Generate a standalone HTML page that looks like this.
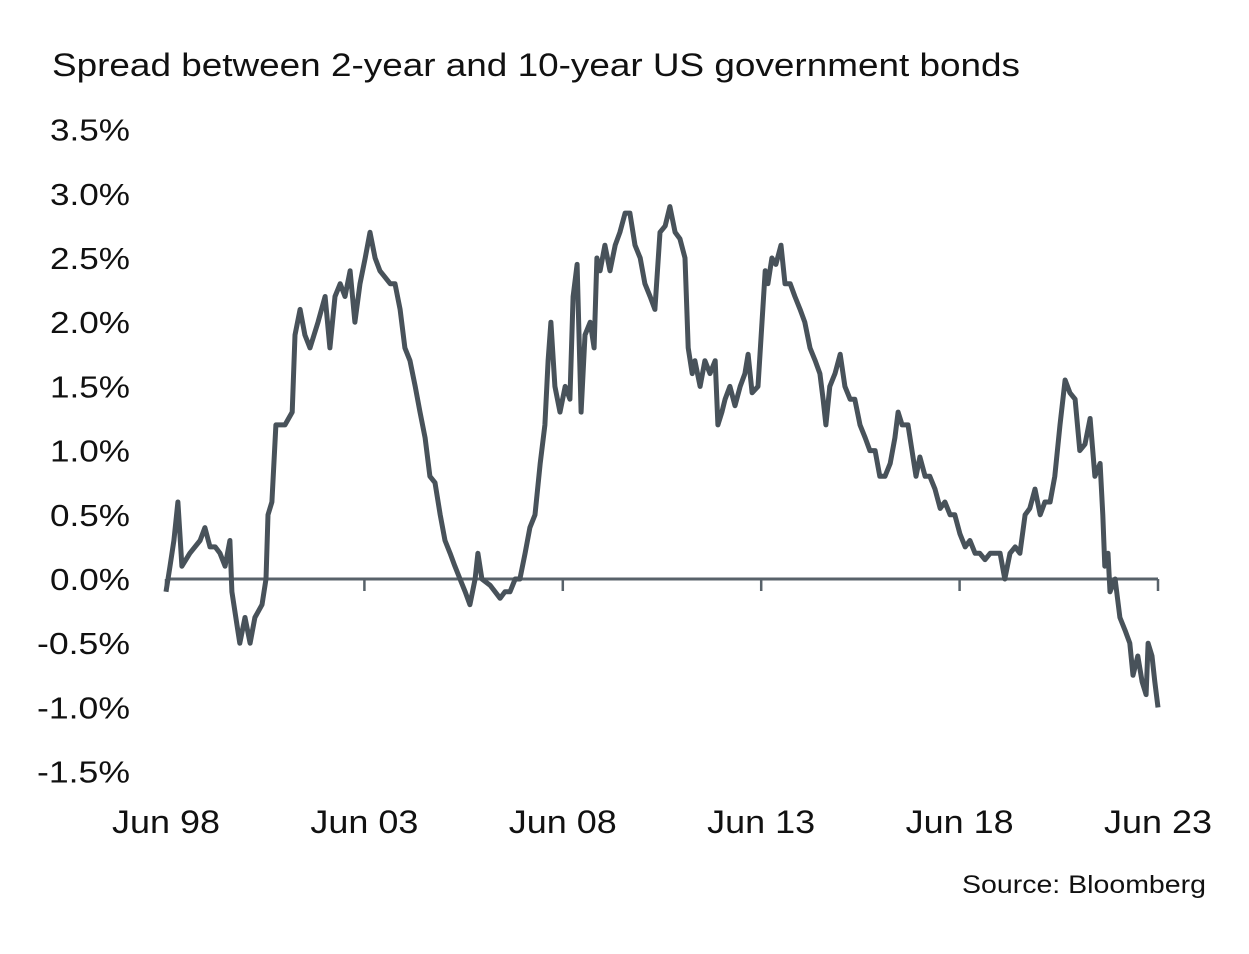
<!DOCTYPE html>
<html><head><meta charset="utf-8"><style>
html,body{margin:0;padding:0;background:#fff;}
svg text{font-family:"Liberation Sans",Arial,sans-serif;fill:#111;}
</style></head><body>
<svg id="chart" width="1249" height="949" viewBox="0 0 1249 949" xmlns="http://www.w3.org/2000/svg">
<text x="52" y="76" font-size="32" textLength="968" lengthAdjust="spacingAndGlyphs">Spread between 2-year and 10-year US government bonds</text>
<g id="yaxis"></g>
<g id="xaxis"></g>
<path id="series" fill="none" stroke="#48525a" stroke-width="5" stroke-linejoin="round"></path>
<text x="962" y="893" font-size="25" textLength="244" lengthAdjust="spacingAndGlyphs">Source: Bloomberg</text>
</svg>
<script>
const yTicks=[3.5,3.0,2.5,2.0,1.5,1.0,0.5,0.0,-0.5,-1.0,-1.5];
const yTickLabels=["3.5%","3.0%","2.5%","2.0%","1.5%","1.0%","0.5%","0.0%","-0.5%","-1.0%","-1.5%"];
const xTicks=[1998.5,2003.5,2008.5,2013.5,2018.5,2023.5];
const xTickLabels=["Jun 98","Jun 03","Jun 08","Jun 13","Jun 18","Jun 23"];
const dates=[1998.50,1998.60,1998.70,1998.80,1998.90,1999.10,1999.36,1999.48,1999.61,1999.74,1999.86,1999.99,2000.11,2000.16,2000.31,2000.36,2000.49,2000.62,2000.74,2000.92,2001.02,2001.07,2001.17,2001.27,2001.50,2001.68,2001.75,2001.88,2002.00,2002.13,2002.33,2002.51,2002.63,2002.76,2002.89,2003.01,2003.14,2003.26,2003.39,2003.52,2003.64,2003.77,2003.89,2004.15,2004.27,2004.40,2004.52,2004.65,2004.78,2004.90,2005.03,2005.15,2005.28,2005.41,2005.53,2005.66,2005.78,2005.91,2006.04,2006.16,2006.29,2006.36,2006.46,2006.67,2006.92,2007.04,2007.17,2007.30,2007.42,2007.55,2007.67,2007.80,2007.93,2008.05,2008.13,2008.20,2008.30,2008.43,2008.56,2008.68,2008.76,2008.86,2008.96,2009.06,2009.19,2009.29,2009.36,2009.44,2009.56,2009.69,2009.82,2009.94,2010.07,2010.19,2010.32,2010.45,2010.57,2010.70,2010.82,2010.95,2011.08,2011.20,2011.33,2011.45,2011.58,2011.66,2011.76,2011.83,2011.96,2012.08,2012.21,2012.34,2012.41,2012.51,2012.59,2012.71,2012.84,2012.97,2013.09,2013.17,2013.27,2013.42,2013.60,2013.67,2013.77,2013.87,2014.00,2014.10,2014.23,2014.35,2014.48,2014.60,2014.73,2014.86,2014.98,2015.06,2015.13,2015.23,2015.36,2015.49,2015.61,2015.74,2015.86,2015.99,2016.12,2016.24,2016.37,2016.49,2016.62,2016.75,2016.87,2016.95,2017.05,2017.20,2017.30,2017.40,2017.50,2017.63,2017.75,2017.88,2018.01,2018.13,2018.26,2018.38,2018.51,2018.64,2018.76,2018.89,2019.01,2019.14,2019.27,2019.39,2019.52,2019.64,2019.77,2019.90,2020.02,2020.15,2020.27,2020.40,2020.53,2020.65,2020.78,2020.90,2021.03,2021.16,2021.28,2021.41,2021.53,2021.66,2021.79,2021.91,2022.04,2022.11,2022.16,2022.24,2022.29,2022.42,2022.54,2022.67,2022.79,2022.87,2022.99,2023.10,2023.20,2023.25,2023.35,2023.42,2023.50];
const spreads=[-0.1,0.1,0.3,0.6,0.1,0.2,0.3,0.4,0.25,0.25,0.2,0.1,0.3,-0.1,-0.4,-0.5,-0.3,-0.5,-0.3,-0.2,0.0,0.5,0.6,1.2,1.2,1.3,1.9,2.1,1.9,1.8,2.0,2.2,1.8,2.2,2.3,2.2,2.4,2.0,2.3,2.5,2.7,2.5,2.4,2.3,2.3,2.1,1.8,1.7,1.5,1.3,1.1,0.8,0.75,0.5,0.3,0.2,0.1,0.0,-0.1,-0.2,0.0,0.2,0.0,-0.05,-0.15,-0.1,-0.1,0.0,0.0,0.2,0.4,0.5,0.9,1.2,1.7,2.0,1.5,1.3,1.5,1.4,2.2,2.45,1.3,1.9,2.0,1.8,2.5,2.4,2.6,2.4,2.6,2.7,2.85,2.85,2.6,2.5,2.3,2.2,2.1,2.7,2.75,2.9,2.7,2.65,2.5,1.8,1.6,1.7,1.5,1.7,1.6,1.7,1.2,1.3,1.4,1.5,1.35,1.5,1.6,1.75,1.45,1.5,2.4,2.3,2.5,2.45,2.6,2.3,2.3,2.2,2.1,2.0,1.8,1.7,1.6,1.4,1.2,1.5,1.6,1.75,1.5,1.4,1.4,1.2,1.1,1.0,1.0,0.8,0.8,0.9,1.1,1.3,1.2,1.2,1.0,0.8,0.95,0.8,0.8,0.7,0.55,0.6,0.5,0.5,0.35,0.25,0.3,0.2,0.2,0.15,0.2,0.2,0.2,0.0,0.2,0.25,0.2,0.5,0.55,0.7,0.5,0.6,0.6,0.8,1.2,1.55,1.45,1.4,1.0,1.05,1.25,0.8,0.9,0.5,0.1,0.2,-0.1,0.0,-0.3,-0.4,-0.5,-0.75,-0.6,-0.8,-0.9,-0.5,-0.6,-0.8,-1.0];
const NS='http://www.w3.org/2000/svg';
function xScale(t){return 166+(t-1998.5)*(1158-166)/25;}
function yScale(v){return 579-v*128.4;}
const ya=document.getElementById('yaxis');
yTicks.forEach((v,i)=>{
  const t=document.createElementNS(NS,'text');
  
  
  const w=yTickLabels[i][0]==='-'?93:80;
  t.setAttribute('x',130-w);t.setAttribute('y',yScale(v)+11);
  t.setAttribute('font-size','31');
  t.setAttribute('textLength',w);t.setAttribute('lengthAdjust','spacingAndGlyphs');
  t.textContent=yTickLabels[i];ya.appendChild(t);
});
const xa=document.getElementById('xaxis');
const base=document.createElementNS(NS,'line');


base.setAttribute('x1',xScale(xTicks[0]));base.setAttribute('x2',xScale(xTicks[xTicks.length-1]));
base.setAttribute('y1',yScale(0));base.setAttribute('y2',yScale(0));
base.setAttribute('stroke','#58626a');base.setAttribute('stroke-width','3');
xa.appendChild(base);
xTicks.forEach((t,i)=>{
  const l=document.createElementNS(NS,'line');
  
  
  l.setAttribute('x1',xScale(t));l.setAttribute('x2',xScale(t));
  l.setAttribute('y1',yScale(0));l.setAttribute('y2',yScale(0)+12);
  l.setAttribute('stroke','#58626a');l.setAttribute('stroke-width','2.5');
  xa.appendChild(l);
  const tx=document.createElementNS(NS,'text');
  
  
  tx.setAttribute('x',xScale(t)-54);tx.setAttribute('y',833);
  tx.setAttribute('font-size','32');
  tx.setAttribute('textLength','108');tx.setAttribute('lengthAdjust','spacingAndGlyphs');
  tx.textContent=xTickLabels[i];xa.appendChild(tx);
});
let d='';
dates.forEach((t,i)=>{d+=(i?'L':'M')+xScale(t).toFixed(1)+','+yScale(spreads[i]).toFixed(1);});
document.getElementById('series').setAttribute('d',d);
</script>
</body></html>
